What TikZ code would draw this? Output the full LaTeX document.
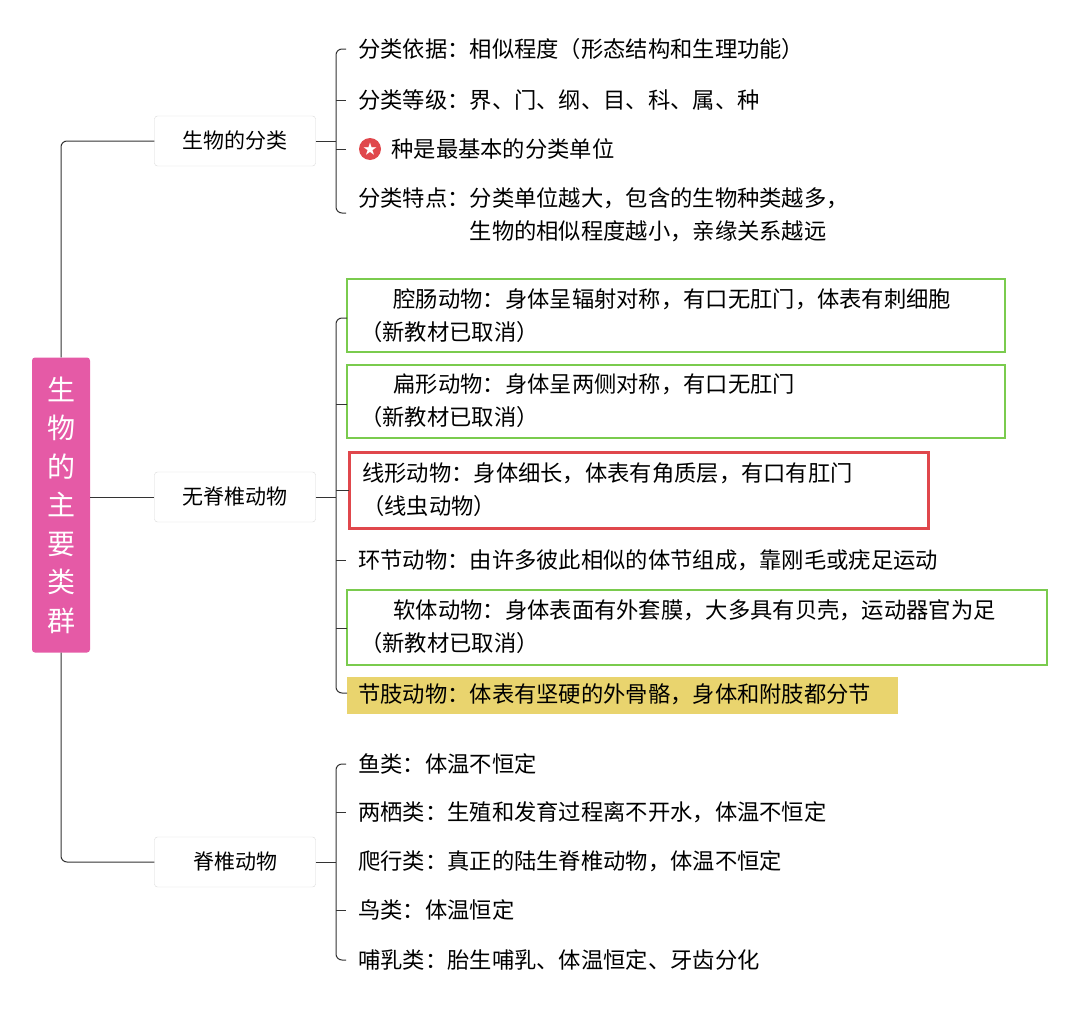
\documentclass[tikz,border=0pt]{standalone}
\usepackage{fontspec}
\setmainfont{Noto Sans CJK SC}
\usetikzlibrary{positioning}
\definecolor{rootpink}{HTML}{E55AA6}
\definecolor{boxred}{HTML}{E0474C}
\definecolor{boxgreen}{HTML}{7ACB4E}
\definecolor{hlyellow}{HTML}{E9D46E}
\begin{document}
\begin{tikzpicture}[x=1pt,y=-1pt,
  line/.style={draw=black!80,line width=1pt,rounded corners=6pt},
  topic/.style={draw=black!15,fill=white,rounded corners=3pt,minimum width=161pt,minimum height=50pt,font=\fontsize{21}{25}\selectfont},
  item/.style={anchor=west,font=\fontsize{22.3}{33}\selectfont,align=left,inner sep=0pt},
  greenbox/.style={draw=boxgreen,line width=1.5pt},
  redbox/.style={draw=boxred,line width=3pt}]
  \useasboundingbox (0,0) rectangle (1080,1012);

  % root
  \node[fill=rootpink,rounded corners=3pt,minimum width=58pt,minimum height=295pt,
    text=white,align=center,font=\fontsize{28}{38.5}\selectfont] (root) at (61,505)
    {生\\物\\的\\主\\要\\类\\群};

  \node[topic] (cls) at (235,141) {生物的分类};
  \node[topic] (inv) at (235,497) {无脊椎动物};
  \node[topic] (ver) at (235,862) {脊椎动物};

  \draw[line] (root.north) |- (cls.west);
  \draw[line] (root.east |- inv.west) -- (inv.west);
  \draw[line] (root.south) |- (ver.west);

  % group 1
  \node[item] (c1) at (358,49) {分类依据：相似程度（形态结构和生理功能）};
  \node[item] (c2) at (358,100) {分类等级：界、门、纲、目、科、属、种};
  \node[circle,fill=boxred,minimum size=22pt,inner sep=0pt,text=white,font=\fontsize{14}{14}\selectfont] (star) at (370,149) {★};
  \node[item,right=10pt of star] (c3) {种是最基本的分类单位};
  \node[item] (c4) at (358,215) {分类特点：分类单位越大，包含的生物种类越多，\\\hspace{5em}生物的相似程度越小，亲缘关系越远};
  \draw[line] (cls.east) -- (336,141);
  \draw[line] (346,49) -| (336,213) -- (346,213);
  \draw[line] (336,100) -- (346,100);
  \draw[line] (336,149) -- (346,149);

  % group 2
  \draw[greenbox] (347,279) rectangle (1005,352);
  \node[item] (i1) at (360,316) {\hspace{1.5em}腔肠动物：身体呈辐射对称，有口无肛门，体表有刺细胞\\（新教材已取消）};
  \draw[greenbox] (347,365) rectangle (1005,438);
  \node[item] (i2) at (360,401) {\hspace{1.5em}扁形动物：身体呈两侧对称，有口无肛门\\（新教材已取消）};
  \draw[redbox] (349,452) rectangle (928,528);
  \node[item] (i3) at (362,490) {线形动物：身体细长，体表有角质层，有口有肛门\\（线虫动物）};
  \node[item] (i4) at (358,560) {环节动物：由许多彼此相似的体节组成，靠刚毛或疣足运动};
  \draw[greenbox] (347,590) rectangle (1047,665);
  \node[item] (i5) at (360,627) {\hspace{1.5em}软体动物：身体表面有外套膜，大多具有贝壳，运动器官为足\\（新教材已取消）};
  \fill[hlyellow] (347,677) rectangle (898,714);
  \node[item] (i6) at (358,694) {节肢动物：体表有坚硬的外骨骼，身体和附肢都分节};
  \draw[line] (inv.east) -- (336,497);
  \draw[line] (347,318) -| (336,693) -- (347,693);
  \draw[line] (336,404) -- (347,404);
  \draw[line] (336,490) -- (349,490);
  \draw[line] (336,560) -- (346,560);
  \draw[line] (336,628) -- (347,628);

  % group 3
  \node[item] (v1) at (358,764) {鱼类：体温不恒定};
  \node[item] (v2) at (358,812) {两栖类：生殖和发育过程离不开水，体温不恒定};
  \node[item] (v3) at (358,861) {爬行类：真正的陆生脊椎动物，体温不恒定};
  \node[item] (v4) at (358,910) {鸟类：体温恒定};
  \node[item] (v5) at (358,960) {哺乳类：胎生哺乳、体温恒定、牙齿分化};
  \draw[line] (ver.east) -- (336,862);
  \draw[line] (346,764) -| (336,960) -- (346,960);
  \draw[line] (336,812) -- (346,812);
  \draw[line] (336,910) -- (346,910);
\end{tikzpicture}
\end{document}
